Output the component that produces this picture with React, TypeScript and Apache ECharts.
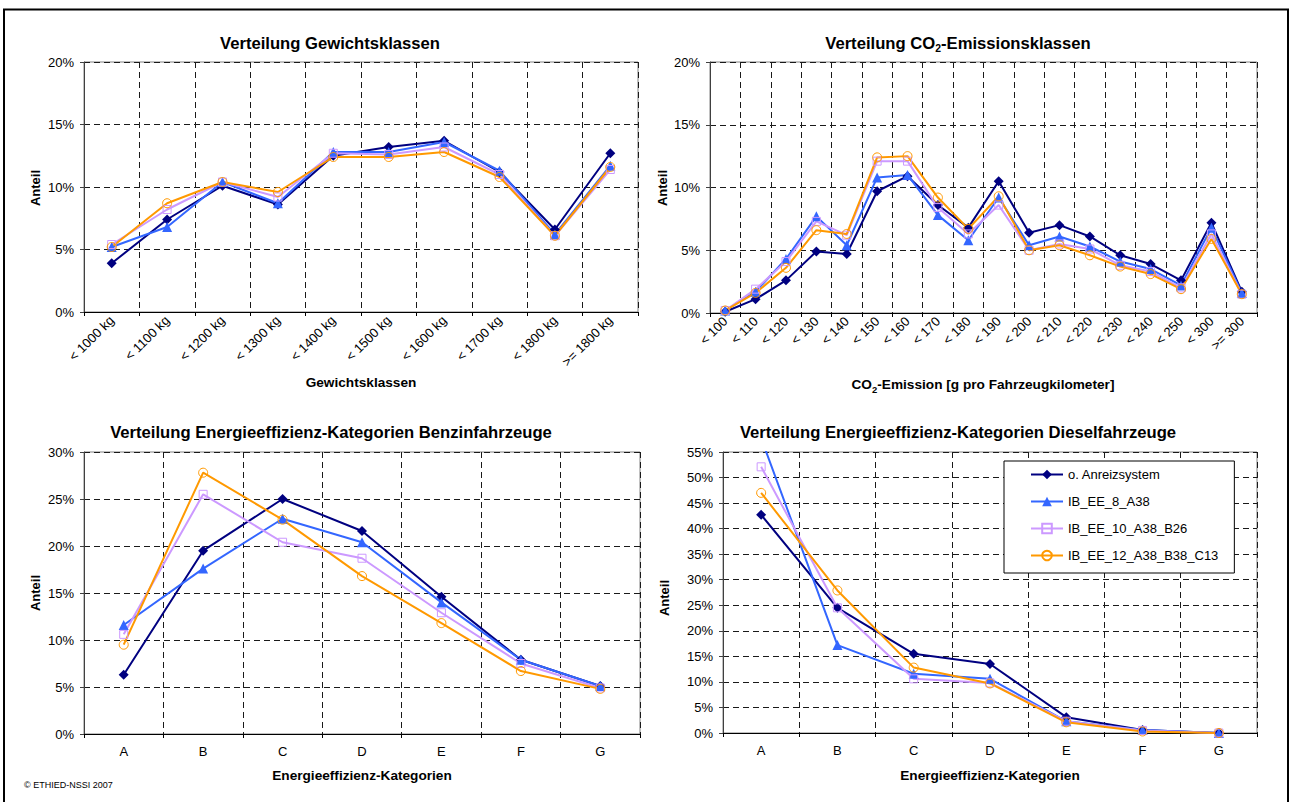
import React, { useEffect, useRef } from "react";
import * as echarts from "echarts";

const FONT = "Liberation Sans, Arial, sans-serif";

const seriesNames = ["o. Anreizsystem", "IB_EE_8_A38", "IB_EE_10_A38_B26", "IB_EE_12_A38_B38_C13"];

const weightClasses = ["< 1000 kg", "< 1100 kg", "< 1200 kg", "< 1300 kg", "< 1400 kg", "< 1500 kg", "< 1600 kg", "< 1700 kg", "< 1800 kg", ">= 1800 kg"];
const weightBase = [3.9, 7.4, 10.1, 8.6, 12.5, 13.2, 13.7, 11.2, 6.6, 12.7];
const weightIb8 = [5.2, 6.8, 10.4, 8.7, 12.8, 12.8, 13.6, 11.3, 6.2, 11.7];
const weightIb10 = [5.4, 8.2, 10.4, 9.2, 12.7, 12.6, 13.2, 11.0, 6.1, 11.4];
const weightIb12 = [5.2, 8.7, 10.4, 9.6, 12.4, 12.4, 12.8, 10.8, 6.1, 11.6];

const co2Classes = ["< 100", "< 110", "< 120", "< 130", "< 140", "< 150", "< 160", "< 170", "< 180", "< 190", "< 200", "< 210", "< 220", "< 230", "< 240", "< 250", "< 300", ">= 300"];
const co2Base = [0.1, 1.1, 2.6, 4.9, 4.7, 9.7, 10.9, 8.6, 6.8, 10.5, 6.4, 7.0, 6.1, 4.6, 3.9, 2.6, 7.2, 1.7];
const co2Ib8 = [0.2, 1.7, 4.3, 7.7, 5.4, 10.8, 11.0, 7.8, 5.8, 9.2, 5.4, 6.1, 5.3, 4.1, 3.5, 2.2, 6.8, 1.6];
const co2Ib10 = [0.2, 1.9, 4.1, 7.3, 6.2, 12.1, 12.1, 8.4, 6.3, 8.6, 5.0, 5.5, 5.1, 3.8, 3.3, 2.0, 6.3, 1.5];
const co2Ib12 = [0.2, 1.6, 3.6, 6.6, 6.3, 12.4, 12.5, 9.2, 6.7, 9.3, 5.0, 5.4, 4.6, 3.7, 3.1, 1.9, 5.9, 1.5];

const effClasses = ["A", "B", "C", "D", "E", "F", "G"];
const benzinBase = [6.3, 19.5, 25.0, 21.6, 14.6, 7.9, 5.1];
const benzinIb8 = [11.6, 17.6, 22.9, 20.4, 14.0, 7.9, 5.1];
const benzinIb10 = [10.6, 25.5, 20.4, 18.7, 12.9, 7.5, 4.9];
const benzinIb12 = [9.5, 27.8, 22.8, 16.8, 11.8, 6.7, 4.8];

const dieselBase = [42.7, 24.5, 15.5, 13.5, 3.1, 0.6, 0.0];
const dieselIb8 = [57.7, 17.2, 11.6, 10.6, 2.3, 0.6, 0.0];
const dieselIb10 = [52.1, 24.5, 10.6, 9.8, 2.3, 0.5, 0.0];
const dieselIb12 = [47.0, 27.9, 12.8, 9.7, 2.1, 0.3, 0.0];

const yMaxes = [20, 20, 30, 55];

export default function App() {
  const ref = useRef<HTMLDivElement>(null);
  useEffect(() => {
    if (!ref.current) return;
    const chart = echarts.init(ref.current, undefined, { renderer: "svg" });

    const grids = [
      { left: 84, top: 62, width: 554, height: 250 },
      { left: 710, top: 62, width: 547, height: 251 },
      { left: 84, top: 452, width: 556, height: 282 },
      { left: 723, top: 452, width: 534, height: 281 },
    ].map((g) => ({ ...g, show: true, borderColor: "#808080", borderWidth: 1, backgroundColor: "#fff" }));

    const cats = [weightClasses, co2Classes, effClasses, effClasses];
    const dataSets = [
      [weightBase, weightIb8, weightIb10, weightIb12],
      [co2Base, co2Ib8, co2Ib10, co2Ib12],
      [benzinBase, benzinIb8, benzinIb10, benzinIb12],
      [dieselBase, dieselIb8, dieselIb10, dieselIb12],
    ];

    const dashed = { color: "#1a1a1a", width: 1, type: [6, 4] as any };

    const xAxes = cats.map((c, i) => ({
      type: "category",
      gridIndex: i,
      data: c,
      boundaryGap: true,
      axisLine: { show: true, lineStyle: { color: "#000", width: 1 } },
      axisTick: { show: true, interval: 0, length: 4, lineStyle: { color: "#000" } },
      splitLine: { show: true, interval: 0, lineStyle: dashed },
      axisLabel:
        i < 2
          ? { interval: 0, rotate: 45, fontSize: 13, fontFamily: FONT, color: "#000", margin: 6 }
          : { interval: 0, fontSize: 13, fontFamily: FONT, color: "#000", margin: 11 },
    }));

    const yAxes = yMaxes.map((m, i) => ({
      type: "value",
      gridIndex: i,
      min: 0,
      max: m,
      interval: 5,
      axisLine: { show: true, lineStyle: { color: "#404040", width: 1 } },
      axisTick: { show: true, length: 4, lineStyle: { color: "#404040" } },
      splitLine: { show: true, lineStyle: dashed },
      axisLabel: { formatter: "{value}%", fontSize: 13, fontFamily: FONT, color: "#000", margin: 10 },
    }));

    const styles = [
      { symbol: "diamond", symbolSize: 10, color: "#000080", fill: "#000080" },
      { symbol: "triangle", symbolSize: 10, color: "#3366FF", fill: "#3366FF" },
      { symbol: "rect", symbolSize: 8, color: "#CC99FF", fill: "rgba(255,255,255,0)" },
      { symbol: "circle", symbolSize: 9, color: "#FF9900", fill: "rgba(255,255,255,0)" },
    ];

    const series: any[] = [];
    dataSets.forEach((set, gi) => {
      set.forEach((d, si) => {
        const st = styles[si];
        series.push({
          type: "line",
          name: seriesNames[si],
          xAxisIndex: gi,
          yAxisIndex: gi,
          data: d,
          symbol: st.symbol,
          symbolSize: st.symbolSize,
          showAllSymbol: true,
          clip: true,
          lineStyle: { color: st.color, width: 2 },
          itemStyle: { color: st.fill, borderColor: st.color, borderWidth: st.fill === st.color ? 0 : 1 },
          emphasis: { disabled: true },
        });
      });
    });

    const txt = (text: string, x: number, y: number, size: number, bold: boolean, rotation = 0, align = "center", scaleX = 1) => ({
      type: "text",
      x,
      y,
      rotation,
      scaleX,
      silent: true,
      style: {
        text,
        align,
        verticalAlign: "middle",
        fontSize: size,
        fontWeight: bold ? "bold" : "normal",
        fontFamily: FONT,
        fill: "#000",
      },
    });

    const richTxt = (text: string, x: number, y: number, size: number, subSize: number, scaleX = 1) => ({
      type: "text",
      x,
      y,
      scaleX,
      silent: true,
      style: {
        text,
        align: "center",
        verticalAlign: "middle",
        fill: "#000",
        rich: {
          b: { fontSize: size, fontWeight: "bold", fontFamily: FONT, lineHeight: size + 6, fill: "#000" },
          s: { fontSize: subSize, fontWeight: "bold", fontFamily: FONT, lineHeight: subSize, verticalAlign: "bottom", fill: "#000" },
        },
      },
    });

    const graphic = [
      {
        type: "rect",
        silent: true,
        shape: { x: 4, y: 9.5, width: 1284, height: 900 },
        style: { fill: "none", stroke: "#000", lineWidth: 2 },
      },
      txt("Verteilung Gewichtsklassen", 330, 43, 16, true, 0, "center", 1.04),
      richTxt("{b|Verteilung CO}{s|2}{b|-Emissionsklassen}", 958, 43, 16, 10, 1.04),
      txt("Verteilung Energieeffizienz-Kategorien Benzinfahrzeuge", 331, 432, 16, true, 0, "center", 1.04),
      txt("Verteilung Energieeffizienz-Kategorien Dieselfahrzeuge", 958, 432, 16, true, 0, "center", 1.04),
      txt("Anteil", 35, 188, 13, true, Math.PI / 2),
      txt("Anteil", 662, 188, 13, true, Math.PI / 2),
      txt("Anteil", 35, 593, 13, true, Math.PI / 2),
      txt("Anteil", 664, 598, 13, true, Math.PI / 2),
      txt("Gewichtsklassen", 361, 383, 13, true, 0, "center", 1.05),
      richTxt("{b|CO}{s|2}{b|-Emission [g pro Fahrzeugkilometer]}", 983, 385, 13, 9, 1.05),
      txt("Energieeffizienz-Kategorien", 362, 776, 13, true, 0, "center", 1.05),
      txt("Energieeffizienz-Kategorien", 990, 776, 13, true, 0, "center", 1.05),
      txt("© ETHIED-NSSI 2007", 24, 785, 9, false, 0, "left"),
    ];

    chart.setOption({
      animation: false,
      backgroundColor: "#fff",
      grid: grids,
      xAxis: xAxes,
      yAxis: yAxes,
      series,
      graphic,
      legend: {
        orient: "vertical",
        left: 1004,
        top: 461,
        padding: [7, 16, 11, 26],
        itemGap: 14,
        itemWidth: 32,
        itemHeight: 12,
        backgroundColor: "#fff",
        borderColor: "#000",
        borderWidth: 1,
        borderRadius: 0,
        selectedMode: false,
        textStyle: { fontSize: 13, fontFamily: FONT, color: "#000" },
        data: seriesNames,
      },
    });
    return () => chart.dispose();
  }, []);
  return <div ref={ref} style={{ position: "fixed", left: 0, top: 0, width: 1290, height: 802, background: "#fff" }} />;
}
